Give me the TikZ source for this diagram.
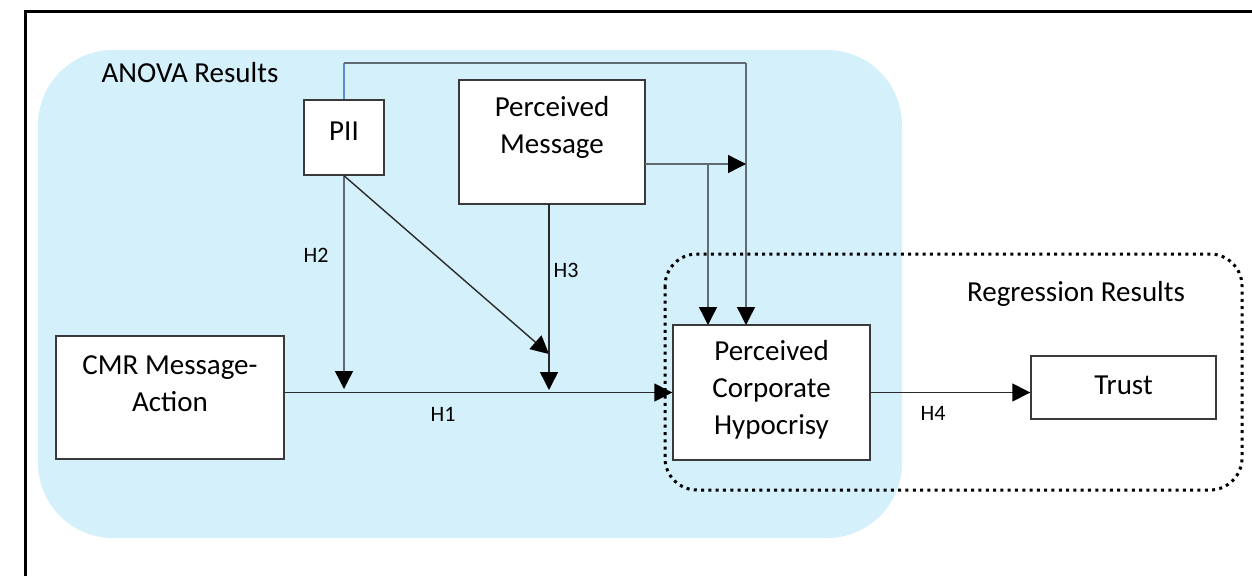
\documentclass[tikz,border=0pt]{standalone}
\usepackage{fontspec}
\setmainfont{Carlito}
\usetikzlibrary{arrows.meta}
\definecolor{anova}{HTML}{D4F0FA}
\definecolor{ln}{HTML}{5F6B70}
\definecolor{dk}{HTML}{2A2A2A}
\definecolor{bd}{HTML}{3A3A3A}
\definecolor{pblue}{HTML}{5B8BD0}
\begin{document}
\begin{tikzpicture}[x=1pt,y=-1pt,
  box/.style={draw=bd, line width=1.4pt, fill=white, inner sep=0pt, rectangle},
  txt/.style={font=\fontsize{29}{37}\selectfont, align=center, inner sep=0pt},
  hl/.style={font=\fontsize{22}{26}\selectfont, inner sep=0pt},
  conn/.style={draw=ln, line width=1.4pt},
  arr/.style={conn, -{Triangle[length=18pt,width=18pt,color=black,fill=black]}},
  darr/.style={arr, draw=dk}]
\useasboundingbox (0,0) rectangle (1252,576);
% outer frame (only left and top edges visible)
\draw[line width=3pt, black] (25,576) -- (25,11) -- (1252,11);
% ANOVA region
\fill[anova, rounded corners=75pt] (38,50) rectangle (902,538);
\node[txt] (anovalbl) at (190,73) {ANOVA Results};
% Regression region
\draw[line width=3pt, dash pattern=on 3pt off 4.3pt, rounded corners=32pt] (665,254) rectangle (1242,490);
\node[txt] (reglbl) at (1076,294) {Regression Results};
% boxes
\node[box, minimum width=80pt, minimum height=75pt] (pii) at (344,137.5) {};
\node[txt] (piit) at (344,131) {PII};
\node[box, minimum width=186pt, minimum height=124pt] (pm) at (552,142) {};
\node[txt] (pmt) at (552,127) {Perceived\\Message};
\node[box, minimum width=228pt, minimum height=123pt] (cmr) at (170,397.5) {};
\node[txt] (cmrt) at (170,384) {CMR Message-\\Action};
\node[box, minimum width=197pt, minimum height=135pt] (pch) at (771.5,392.5) {};
\node[txt] (pcht) at (771.5,390) {Perceived\\Corporate\\Hypocrisy};
\node[box, minimum width=185pt, minimum height=63pt] (trust) at (1123.5,387.5) {};
\node[txt] (trustt) at (1123.5,385) {Trust};
% helper coordinates
\coordinate (top1) at (344,63);
\coordinate (top2) at (746,63);
\coordinate (pcha) at (746,325);
\coordinate (pchb) at (708,325);
\coordinate (pmr) at (645,164);
\coordinate (pmj) at (746,164);
\coordinate (pmb) at (708,164);
\coordinate (pms) at (549,204);
\coordinate (h3e) at (549,390);
\coordinate (h2e) at (344,389);
\coordinate (de) at (549,354);
% connectors
\draw[darr] (cmr.east |- pch.west) -- (pch.west);
\draw[arr] (pii.south) -- (h2e);
\draw[darr] (pii.south) -- (de);
\draw[darr] (pms) -- (h3e);
\draw[pblue, line width=1.4pt] (pii.north) -- (top1);
\draw[conn] (top1) -- (top2);
\draw[arr] (top2) -- (pcha);
\draw[arr] (pmr) -- (pmj);
\draw[arr] (pmb) -- (pchb);
\draw[darr] (pch.east) -- (pch.east -| trust.west);
% hypothesis labels
\node[hl] (h1) at (443,414) {H1};
\node[hl] (h2) at (316,255) {H2};
\node[hl] (h3) at (566,270) {H3};
\node[hl] (h4) at (933,413) {H4};
\end{tikzpicture}
\end{document}
